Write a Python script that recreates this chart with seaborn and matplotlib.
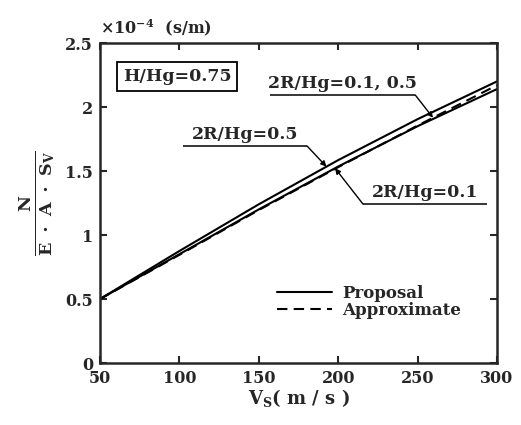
import numpy as np
import pandas as pd
import matplotlib
matplotlib.use("Agg")
import matplotlib.pyplot as plt
import seaborn as sns
from matplotlib.lines import Line2D

# Shear-wave velocity (m/s) and normalised axial force N/(E·A·S_V), in 1e-4 s/m
vs = [50, 100, 150, 200, 250, 300]
proposal_r05 = [0.50, 0.875, 1.240, 1.585, 1.905, 2.200]
proposal_r01 = [0.50, 0.850, 1.200, 1.535, 1.850, 2.140]
approximate = [0.50, 0.845, 1.195, 1.530, 1.855, 2.170]

x_ticks = [50, 100, 150, 200, 250, 300]
y_ticks = [0, 0.5, 1, 1.5, 2, 2.5]

sns.set_style("ticks")
plt.rcParams["font.family"] = ["DejaVu Serif"]
plt.rcParams["font.weight"] = "bold"
plt.rcParams["mathtext.fontset"] = "dejavuserif"

df = pd.concat([
    pd.DataFrame({"Vs": vs, "val": proposal_r05, "curve": "P05"}),
    pd.DataFrame({"Vs": vs, "val": proposal_r01, "curve": "P01"}),
    pd.DataFrame({"Vs": vs, "val": approximate, "curve": "A"}),
])

fig = plt.figure(figsize=(5.21, 4.25), dpi=100)
ax = fig.add_axes([100 / 521, 1 - 363 / 425, 397 / 521, 320 / 425])

for name, ls in [("P05", "-"), ("P01", "-"), ("A", (0, (5, 3)))]:
    sub = df[df["curve"] == name]
    sns.lineplot(data=sub, x="Vs", y="val", ax=ax, color="black",
                 linewidth=1.5, linestyle=ls, legend=False, sort=True)

ax.set_xlim(50, 300)
ax.set_ylim(0, 2.5)
ax.set_xticks(x_ticks)
ax.set_yticks(y_ticks)
ax.set_yticklabels([f"{t:g}" for t in y_ticks])
ax.tick_params(direction="in", length=5, width=1.5, top=True, right=True,
               labelsize=11.5, pad=5)
for lab in ax.get_xticklabels() + ax.get_yticklabels():
    lab.set_fontweight("bold")
for sp in ax.spines.values():
    sp.set_linewidth(1.8)
    sp.set_visible(True)

ax.set_xlabel(r"$\mathbf{V_S}$( m / s )", fontsize=13, fontweight="bold", labelpad=0)
ax.set_ylabel(r"$\frac{\mathbf{N}}{\mathbf{E\ \cdot\ A\ \cdot\ S_V}}$",
              fontsize=18, labelpad=6)

ax.text(0.0, 1.015, r"$\times\mathbf{10^{-4}}$  (s/m)", transform=ax.transAxes,
        ha="left", va="bottom", fontsize=11.5, fontweight="bold")

ax.text(0.194, 0.894, "H/Hg=0.75", transform=ax.transAxes, ha="center",
        va="center", fontsize=12.5, fontweight="bold",
        bbox=dict(boxstyle="square,pad=0.35", fc="white", ec="black", lw=1.3))


def labelled_leader(text, x0, x1, y, target_x, curve, text_side="left"):
    ax.plot([x0, x1], [y, y], color="black", lw=1.1, solid_capstyle="butt")
    ax.text((x0 + x1) / 2, y + 0.02, text, ha="center", va="bottom",
            fontsize=12.5, fontweight="bold")
    start = x1 if text_side == "left" else x0
    ty = float(np.interp(target_x, vs, curve))
    ax.annotate("", xy=(target_x, ty), xytext=(start, y),
                arrowprops=dict(arrowstyle="-|>", color="black", lw=1.0,
                                mutation_scale=8, shrinkA=0, shrinkB=0))


labelled_leader("2R/Hg=0.1, 0.5", 157, 248.5, 2.094, 259.7, approximate)
labelled_leader("2R/Hg=0.5", 102.3, 180.4, 1.695, 192.6, proposal_r05)
labelled_leader("2R/Hg=0.1", 215.6, 293.7, 1.242, 198.0, proposal_r01,
                text_side="right")

handles = [Line2D([], [], color="black", lw=1.5, ls="-"),
           Line2D([], [], color="black", lw=1.5, ls=(0, (5, 3)))]
leg = ax.legend(handles, ["Proposal", "Approximate"], loc="upper left",
                bbox_to_anchor=(0.43, 0.265), frameon=False, fontsize=12,
                handlelength=3.3, handletextpad=0.6, labelspacing=0.02,
                borderaxespad=0)
for t in leg.get_texts():
    t.set_fontweight("bold")

fig.savefig("out.png", dpi=100)
